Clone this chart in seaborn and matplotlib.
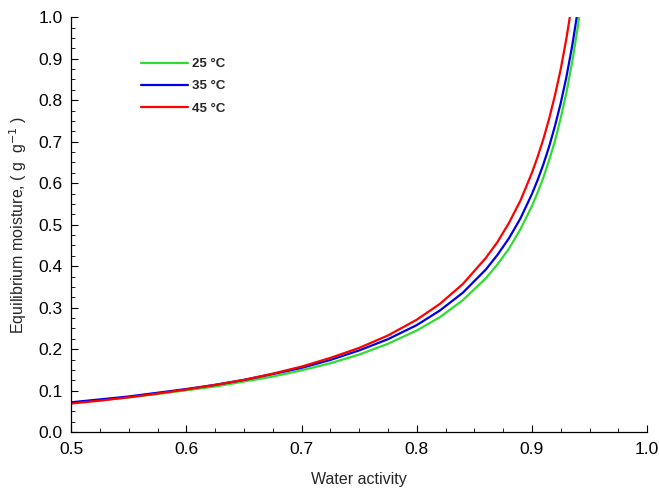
import pandas as pd
import matplotlib
matplotlib.use("Agg")
import matplotlib.pyplot as plt
import seaborn as sns
from matplotlib.ticker import MultipleLocator

# Data
water_activity = [0.50, 0.525, 0.55, 0.575, 0.60, 0.625, 0.65, 0.675, 0.70, 0.725,
                  0.75, 0.775, 0.80, 0.82, 0.84, 0.86, 0.87, 0.88, 0.89, 0.90,
                  0.905, 0.91, 0.915, 0.92, 0.925, 0.93, 0.935, 0.94, 0.945]

moisture_25 = [0.071, 0.077, 0.084, 0.092, 0.101, 0.110, 0.122, 0.134, 0.149, 0.166,
               0.187, 0.213, 0.245, 0.277, 0.318, 0.371, 0.404, 0.442, 0.489, 0.545,
               0.578, 0.614, 0.656, 0.702, 0.757, 0.819, 0.893, 0.980, 1.086]

moisture_35 = [0.072, 0.079, 0.086, 0.095, 0.104, 0.114, 0.126, 0.140, 0.155, 0.174,
               0.197, 0.224, 0.258, 0.293, 0.336, 0.392, 0.427, 0.467, 0.515, 0.574,
               0.608, 0.646, 0.689, 0.738, 0.793, 0.857, 0.932, 1.020, 1.120]

moisture_45 = [0.069, 0.076, 0.084, 0.093, 0.103, 0.114, 0.126, 0.141, 0.158, 0.179,
               0.203, 0.233, 0.271, 0.309, 0.357, 0.420, 0.458, 0.504, 0.558, 0.625,
               0.664, 0.707, 0.756, 0.812, 0.875, 0.950, 1.037, 1.140, 1.250]

temps = ["25 °C", "35 °C", "45 °C"]
colors = ["#2fdc2f", "#0000e6", "#ff0000"]

df = pd.concat([
    pd.DataFrame({"aw": water_activity, "m": vals, "T": t})
    for t, vals in zip(temps, [moisture_25, moisture_35, moisture_45])
])

sns.set_style("ticks")
plt.rcParams["font.family"] = ["Liberation Sans", "DejaVu Sans"]

fig = plt.figure(figsize=(6.59, 4.90), dpi=100)
ax = fig.add_axes([0.108, 0.118, 0.874, 0.847])

sns.lineplot(data=df, x="aw", y="m", hue="T", palette=dict(zip(temps, colors)),
             linewidth=1.6, ax=ax, legend=False)

ax.set_xlim(0.5, 1.0)
ax.set_ylim(0.0, 1.0)
ax.xaxis.set_major_locator(MultipleLocator(0.1))
ax.xaxis.set_minor_locator(MultipleLocator(0.025))
ax.yaxis.set_major_locator(MultipleLocator(0.1))
ax.yaxis.set_minor_locator(MultipleLocator(0.025))
ax.xaxis.set_major_formatter(plt.FormatStrFormatter("%.1f"))
ax.yaxis.set_major_formatter(plt.FormatStrFormatter("%.1f"))
ax.tick_params(which="both", direction="in", colors="black", labelsize=12.5)
ax.tick_params(which="major", length=5, width=0.8)
ax.tick_params(which="minor", length=3, width=0.6)
ax.tick_params(axis="x", pad=7)
ax.tick_params(axis="y", pad=6)
for s in ["top", "right"]:
    ax.spines[s].set_visible(False)
for s in ["left", "bottom"]:
    ax.spines[s].set_color("black")
    ax.spines[s].set_linewidth(0.9)

ax.set_xlabel("Water activity", fontsize=11.5, labelpad=11)
ax.set_ylabel("Equilibrium moisture, ( g  g$^{-1}$ )", fontsize=11.5, labelpad=7)

handles = [plt.Line2D([], [], color=c, linewidth=1.6) for c in colors]
ax.legend(handles, temps, loc="upper left", bbox_to_anchor=(0.10, 0.93),
          frameon=False, handlelength=3.6, handletextpad=0.3, labelspacing=0.75,
          prop={"weight": "bold", "size": 9.5})

fig.savefig("out.png", dpi=100)
